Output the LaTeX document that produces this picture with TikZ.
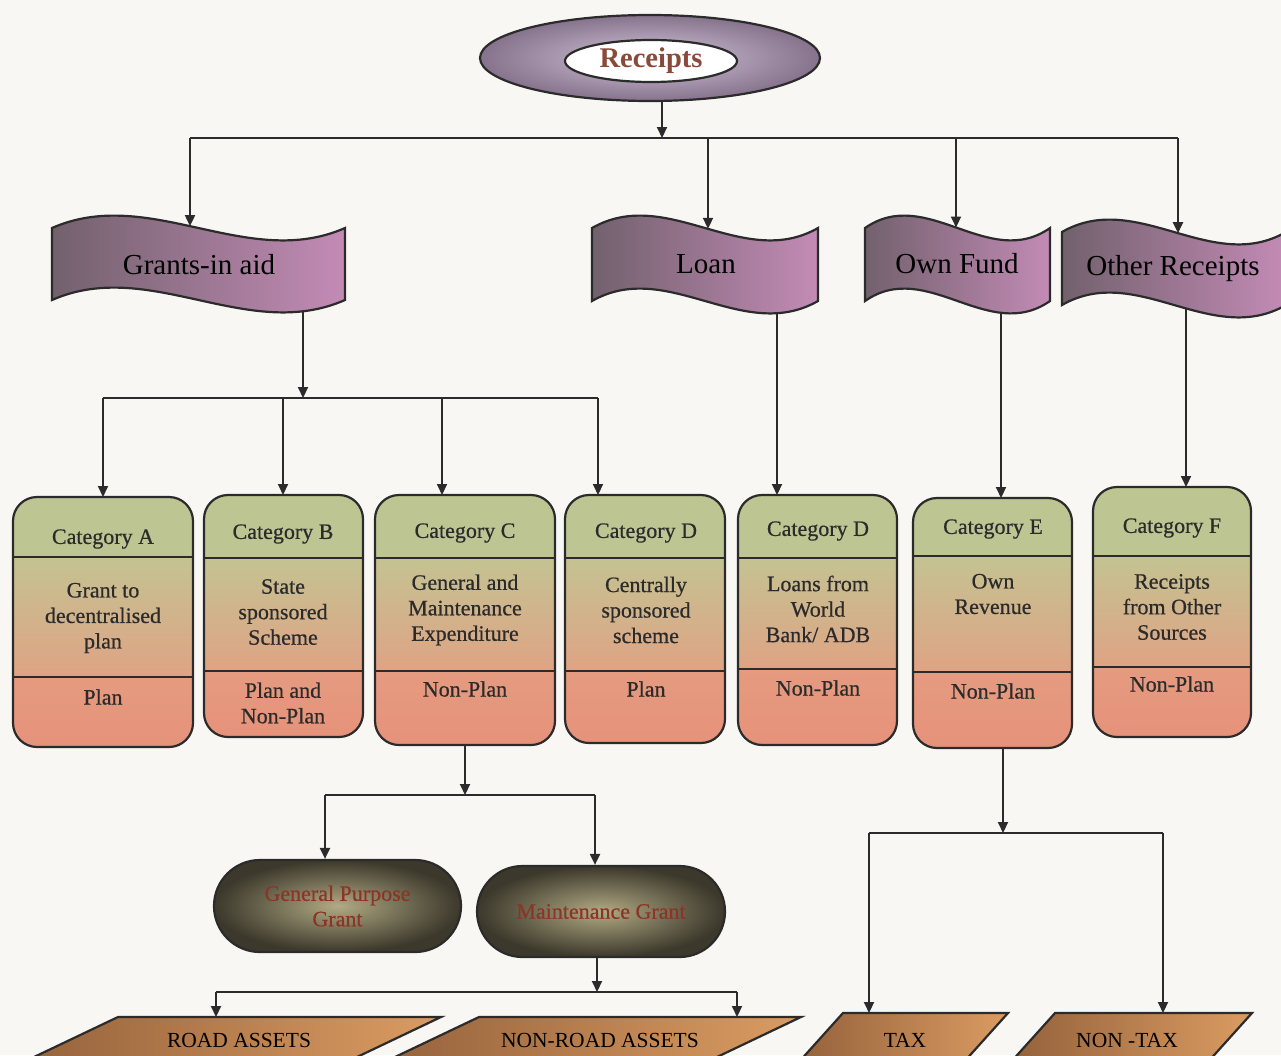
\documentclass[tikz,border=0pt]{standalone}
\usepackage{fontspec}
\setmainfont{Liberation Serif}
\newfontfamily\cardfont[FakeBold=0.6]{Liberation Serif}
\usetikzlibrary{arrows.meta,shapes.geometric,shapes.misc,fit}

\definecolor{paper}{HTML}{F8F7F4}
\definecolor{ink}{HTML}{2B2B2B}
\definecolor{bannerL}{HTML}{72616D}
\definecolor{bannerR}{HTML}{C38BB6}
\definecolor{ovalIn}{HTML}{D2C6D8}
\definecolor{ovalOut}{HTML}{86728C}
\definecolor{receiptsText}{HTML}{8A4A3A}
\definecolor{catHead}{HTML}{BDC593}
\definecolor{catMidTop}{HTML}{C4C392}
\definecolor{catMidBot}{HTML}{DFA384}
\definecolor{catLowTop}{HTML}{E59B80}
\definecolor{catLowBot}{HTML}{E6927A}
\definecolor{pillIn}{HTML}{B1AA84}
\definecolor{pillOut}{HTML}{3C382B}
\definecolor{pillText}{HTML}{8C3526}
\definecolor{slabL}{HTML}{8E5C38}
\definecolor{slabR}{HTML}{DB9C62}

\tikzset{
  wire/.style={draw=ink, line width=2pt},
  arr/.style={wire, -{Triangle[length=11pt,width=10pt]}},
  outline/.style={draw=ink, line width=2.2pt},
  bannertext/.style={font=\fontsize{29}{32}\selectfont, text=black, inner sep=0pt},
  cattext/.style={font=\cardfont\fontsize{22}{25.5}\selectfont, text=ink, align=center, inner sep=0pt},
  hitbox/.style={draw=none, inner sep=0pt, outer sep=0pt},
  pill/.style={rounded rectangle, outline, inner color=pillIn, outer color=pillOut,
    text=pillText, font=\cardfont\fontsize{22}{25.5}\selectfont, align=center, inner sep=0pt},
  slabtext/.style={font=\fontsize{21.5}{24}\selectfont, text=black, inner sep=0pt},
}

% wavy banner: corners at x = #1 .. #2, top edge y = #3, bottom edge y = #4
\newcommand{\wavebanner}[4]{%
  \path[outline, left color=bannerL, right color=bannerR]
    (#1,#3) .. controls ({#1+(#2-#1)/3},{#3-43}) and ({#1+2*(#2-#1)/3},{#3+43}) .. (#2,#3)
    -- (#2,#4) .. controls ({#1+2*(#2-#1)/3},{#4+43}) and ({#1+(#2-#1)/3},{#4-43}) .. (#1,#4)
    -- cycle;}

% three-band category card: name, left, top, right, bottom, first and second divider
\newcommand{\catcard}[7]{%
  \begin{scope}
    \clip[rounded corners=24pt] (#2,#3) rectangle (#4,#5);
    \fill[catHead] (#2,#3) rectangle (#4,#6);
    \shade[top color=catMidTop, bottom color=catMidBot] (#2,#6) rectangle (#4,#7);
    \shade[top color=catLowTop, bottom color=catLowBot] (#2,#7) rectangle (#4,#5);
  \end{scope}
  \draw[outline, rounded corners=24pt] (#2,#3) rectangle (#4,#5);
  \draw[outline] (#2,#6) -- (#4,#6) (#2,#7) -- (#4,#7);
  \node[hitbox, fit={(#2,#3) (#4,#5)}] (#1) {};}

% slanted slab running off the bottom edge: top-left x, top-right x, top y, slant
\newcommand{\slab}[4]{%
  \path[outline, left color=slabL, right color=slabR]
    (#1,#3) -- (#2,#3) -- ({#2-#4*(1085-#3)},1085) -- ({#1-#4*(1085-#3)},1085) -- cycle;}

\begin{document}
\begin{tikzpicture}[x=1pt,y=-1pt]
\useasboundingbox (0,0) rectangle (1281,1055);
\fill[paper] (0,0) rectangle (1281,1055);
\clip (0,0) rectangle (1281,1055);

% ---------- top: Receipts ----------
\node[ellipse, outline, minimum width=340pt, minimum height=86pt,
      inner color=ovalIn, outer color=ovalOut] (receipts) at (650,58) {};
\node[ellipse, outline, fill=white, minimum width=172pt, minimum height=42pt, inner sep=0pt,
      font=\bfseries\fontsize{28.5}{30}\selectfont, text=receiptsText] (receipts-label) at (651,61) {Receipts};

% ---------- sources ----------
\wavebanner{52}{345}{228}{300}
\wavebanner{592}{818}{228}{301}
\wavebanner{865}{1050}{228}{301}
\wavebanner{1062}{1286}{232}{305}
\node[bannertext] (grants) at (199,265) {Grants-in aid};
\node[bannertext] (loan) at (706,264) {Loan};
\node[bannertext] (ownfund) at (957,264) {Own Fund};
\node[bannertext] (other) at (1173,269) {Other Receipts};

\coordinate (grants-in) at (190,226.1);
\coordinate (grants-out) at (303,311.3);
\coordinate (loan-in) at (708,228.8);
\coordinate (loan-out) at (777,313.2);
\coordinate (own-in) at (956,227.5);
\coordinate (own-out) at (1001,312.8);
\coordinate (other-in) at (1178,233.2);
\coordinate (other-out) at (1186,308.4);

% ---------- categories ----------
\catcard{ca}{13}{497}{193}{747}{557}{677}
\catcard{cb}{204}{495}{363}{737}{558}{671}
\catcard{cc}{375}{495}{555}{745}{558}{671}
\catcard{cd}{565}{495}{725}{743}{558}{671}
\catcard{cdl}{738}{495}{897}{745}{558}{669}
\catcard{ce}{913}{498}{1072}{748}{556}{672}
\catcard{cf}{1093}{487}{1251}{737}{556}{667}

\node[cattext] (ca-head) at (103,539) {Category A};
\node[cattext] (ca-body) at (103,618) {Grant to\\decentralised\\plan};
\node[cattext] (ca-kind) at (103,697) {Plan};

\node[cattext] (cb-head) at (283,534) {Category B};
\node[cattext] (cb-body) at (283,612) {State\\sponsored\\Scheme};
\node[cattext] (cb-kind) at (283,703) {Plan and\\Non-Plan};

\node[cattext] (cc-head) at (465,533) {Category C};
\node[cattext] (cc-body) at (465,610) {General and\\Maintenance\\Expenditure};
\node[cattext] (cc-kind) at (465,689) {Non-Plan};

\node[cattext] (cd-head) at (646,533) {Category D};
\node[cattext] (cd-body) at (646,610) {Centrally\\sponsored\\scheme};
\node[cattext] (cd-kind) at (646,689) {Plan};

\node[cattext] (cdl-head) at (818,531) {Category D};
\node[cattext] (cdl-body) at (818,609) {Loans from\\World\\Bank/ ADB};
\node[cattext] (cdl-kind) at (818,688) {Non-Plan};

\node[cattext] (ce-head) at (993,529) {Category E};
\node[cattext] (ce-body) at (993,594) {Own\\Revenue};
\node[cattext] (ce-kind) at (993,691) {Non-Plan};

\node[cattext] (cf-head) at (1172,528) {Category F};
\node[cattext] (cf-body) at (1172,607) {Receipts\\from Other\\Sources};
\node[cattext] (cf-kind) at (1172,684) {Non-Plan};

% ---------- grants under category C ----------
\node[pill, minimum width=247pt, minimum height=92pt] (gpg) at (337.5,906) {General Purpose\\Grant};
\node[pill, minimum width=248pt, minimum height=91pt] (mg) at (601,911.5) {Maintenance Grant};

% ---------- assets and revenue types ----------
\slab{118}{441}{1017}{2.1}
\slab{479}{801}{1017}{2.1}
\slab{843}{1008}{1013}{0.9}
\slab{1055}{1252}{1013}{0.9}
\node[slabtext] (road) at (239,1040) {ROAD ASSETS};
\node[slabtext] (nonroad) at (600,1040) {NON-ROAD ASSETS};
\node[slabtext] (tax) at (905,1040) {TAX};
\node[slabtext] (nontax) at (1127,1040) {NON -TAX};
\coordinate (road-in) at (216,1017);
\coordinate (nonroad-in) at (737,1017);
\coordinate (tax-in) at (869,1013);
\coordinate (nontax-in) at (1163,1013);

% ---------- connectors ----------
\coordinate (bus-r) at (662,138);
\coordinate (bus-g) at (190,138);
\coordinate (bus-l) at (708,138);
\coordinate (bus-f) at (956,138);
\coordinate (bus-o) at (1178,138);
\draw[arr] (receipts.south -| bus-r) -- (bus-r);
\draw[wire] (bus-g) -- (bus-o);
\draw[arr] (bus-g) -- (grants-in);
\draw[arr] (bus-l) -- (loan-in);
\draw[arr] (bus-f) -- (own-in);
\draw[arr] (bus-o) -- (other-in);

\coordinate (gbus-a) at (103,398);
\coordinate (gbus-b) at (283,398);
\coordinate (gbus-c) at (442,398);
\coordinate (gbus-d) at (598,398);
\draw[arr] (grants-out) -- (grants-out |- gbus-a);
\draw[wire] (gbus-a) -- (gbus-d);
\draw[arr] (gbus-a) -- (gbus-a |- ca.north);
\draw[arr] (gbus-b) -- (gbus-b |- cb.north);
\draw[arr] (gbus-c) -- (gbus-c |- cc.north);
\draw[arr] (gbus-d) -- (gbus-d |- cd.north);

\draw[arr] (loan-out) -- (loan-out |- cdl.north);
\draw[arr] (own-out) -- (own-out |- ce.north);
\draw[arr] (other-out) -- (other-out |- cf.north);

\coordinate (cbus-l) at (325,795);
\coordinate (cbus-r) at (595,795);
\draw[arr] (cc.south) -- (cc.south |- cbus-l);
\draw[wire] (cbus-l) -- (cbus-r);
\draw[arr] (cbus-l) -- (cbus-l |- gpg.north);
\draw[arr] (cbus-r) -- (cbus-r |- mg.north);

\coordinate (mg-x) at (597,0);
\coordinate (mbus-l) at (216,992);
\coordinate (mbus-r) at (737,992);
\draw[arr] (mg.south -| mg-x) -- (mg-x |- mbus-l);
\draw[wire] (mbus-l) -- (mbus-r);
\draw[arr] (mbus-l) -- (road-in);
\draw[arr] (mbus-r) -- (nonroad-in);

\coordinate (ce-x) at (1003,0);
\coordinate (ebus-l) at (869,833);
\coordinate (ebus-r) at (1163,833);
\draw[arr] (ce.south -| ce-x) -- (ce-x |- ebus-l);
\draw[wire] (ebus-l) -- (ebus-r);
\draw[arr] (ebus-l) -- (tax-in);
\draw[arr] (ebus-r) -- (nontax-in);
\end{tikzpicture}
\end{document}
